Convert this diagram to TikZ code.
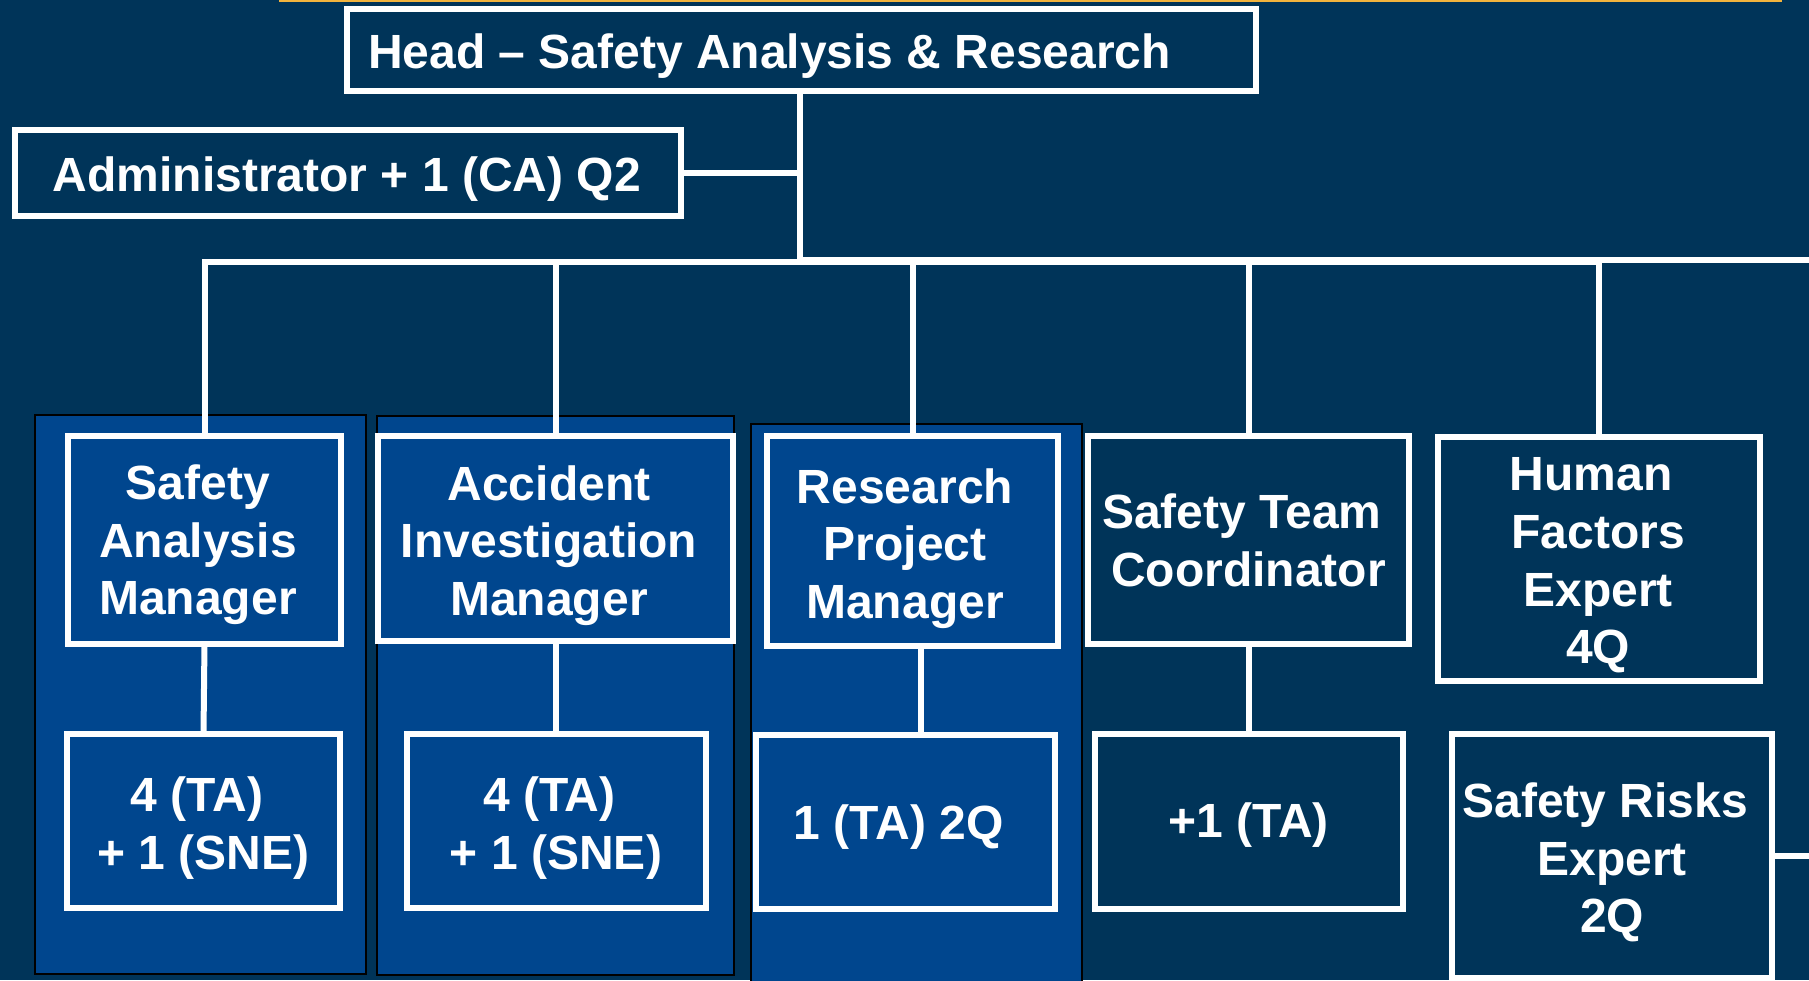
\documentclass[tikz,border=0pt]{standalone}
\usepackage{fontspec}
\setmainfont{Liberation Sans}
\definecolor{bg}{HTML}{003459}
\definecolor{panel}{HTML}{00468E}
\definecolor{gold}{HTML}{F2B33D}
\begin{document}
\begin{tikzpicture}[x=0.5pt,y=-0.5pt,
  box/.style={draw=white, line width=3pt, inner sep=0pt, outer sep=0pt},
  darkbox/.style={box, fill=bg},
  bluebox/.style={box, fill=panel},
  panelbg/.style={draw=black, line width=1pt, fill=panel},
  lbl/.style={text=white, font=\fontsize{24}{28.8}\selectfont\bfseries, align=center, inner sep=0pt, outer sep=0pt, execute at begin node=\strut, execute at end node=\strut},
  lblone/.style={text=white, font=\fontsize{24}{28.8}\selectfont\bfseries, inner sep=0pt, outer sep=0pt},
  link/.style={draw=white, line width=3pt}
]
\useasboundingbox (0,0) rectangle (1809,980);
\fill[bg] (0,0) rectangle (1809,980);
\draw[gold, line width=1.25pt] (279,1.2) -- (1782,1.2);

% panels
\draw[panelbg] (35,415) rectangle (366,974);
\draw[panelbg] (377,416) rectangle (734,975);
\draw[panelbg] (751,424) rectangle (1082,1000);

% boxes
\node[darkbox, minimum width=454.5pt, minimum height=41.25pt] (head) at (801.5,49.75) {};
\node[darkbox, minimum width=333pt, minimum height=43.25pt] (admin) at (347.6,172.75) {};
\node[bluebox, minimum width=136.5pt, minimum height=103.75pt] (sam) at (204.5,539.75) {};
\node[bluebox, minimum width=136.5pt, minimum height=87.25pt] (s1) at (203.5,820.75) {};
\node[bluebox, minimum width=177.5pt, minimum height=102.5pt] (aim) at (555.5,538.5) {};
\node[bluebox, minimum width=149.75pt, minimum height=87.25pt] (a1) at (556.25,820.75) {};
\node[bluebox, minimum width=145.5pt, minimum height=105pt] (rpm) at (912.5,541) {};
\node[bluebox, minimum width=149.5pt, minimum height=87pt] (r1) at (905.5,821.5) {};
\node[darkbox, minimum width=160.5pt, minimum height=104pt] (stc) at (1248.5,540) {};
\node[darkbox, minimum width=154pt, minimum height=87.5pt] (t1) at (1249,821) {};
\node[darkbox, minimum width=161pt, minimum height=121.8pt] (hfe) at (1599,558.8) {};
\node[darkbox, minimum width=160pt, minimum height=122pt] (sre) at (1612,856) {};

% texts
\node[lblone, anchor=base west] (headt) at (368,68.3) {Head – Safety Analysis \& Research};
\node[lblone, anchor=base] (admint) at (347,191.7) {Administrator + 1 (CA) Q2};
\node[lbl] (samt) at (198,548.5) {Safety\\Analysis\\Manager};
\node[lbl] (s1t) at (203.6,831.5) {4 (TA)\hspace*{.28em}\\+ 1 (SNE)};
\node[lbl] (aimt) at (549,549) {Accident\\Investigation\\Manager};
\node[lbl] (a1t) at (556,831.5) {4 (TA)\hspace*{.28em}\\+ 1 (SNE)};
\node[lbl] (rpmt) at (905,552) {Research\\Project\\Manager};
\node[lblone, anchor=base] (r1t) at (898.5,839) {1 (TA) 2Q};
\node[lbl] (stct) at (1248.5,549) {Safety Team\hspace*{.28em}\\Coordinator};
\node[lblone, anchor=base] (t1t) at (1248.5,837.5) {+1 (TA)};
\node[lbl] (hfet) at (1598,569.5) {Human\hspace*{.28em}\\Factors\hspace*{.28em}\\Expert\\4Q};
\node[lbl] (sret) at (1612,866.5) {Safety Risks\hspace*{.28em}\\Expert\\2Q};

% connectors
\coordinate (j) at (800,262);
\coordinate (rend) at (1809,260);
\draw[link] (head.south -| j) -- (j);
\draw[link] (admin.east) -- (admin.east -| j);
\draw[link] (j |- rend) -- (rend);
\draw[link] (sam.north) -- (sam.north |- j) -- (hfe.north |- j) -- (hfe.north);
\draw[link] (aim.north) -- (aim.north |- j);
\draw[link] (rpm.north) -- (rpm.north |- j);
\draw[link] (stc.north) -- (stc.north |- j);
\draw[link] (sam.south) -- (s1.north);
\draw[link] (aim.south) -- (aim.south |- a1.north);
\draw[link] ([xshift=4.25pt]rpm.south) -- ([xshift=4.25pt]rpm.south |- r1.north);
\draw[link] (stc.south) -- (stc.south |- t1.north);
\draw[link] (sre.east) -- (sre.east -| rend);
\end{tikzpicture}
\end{document}
